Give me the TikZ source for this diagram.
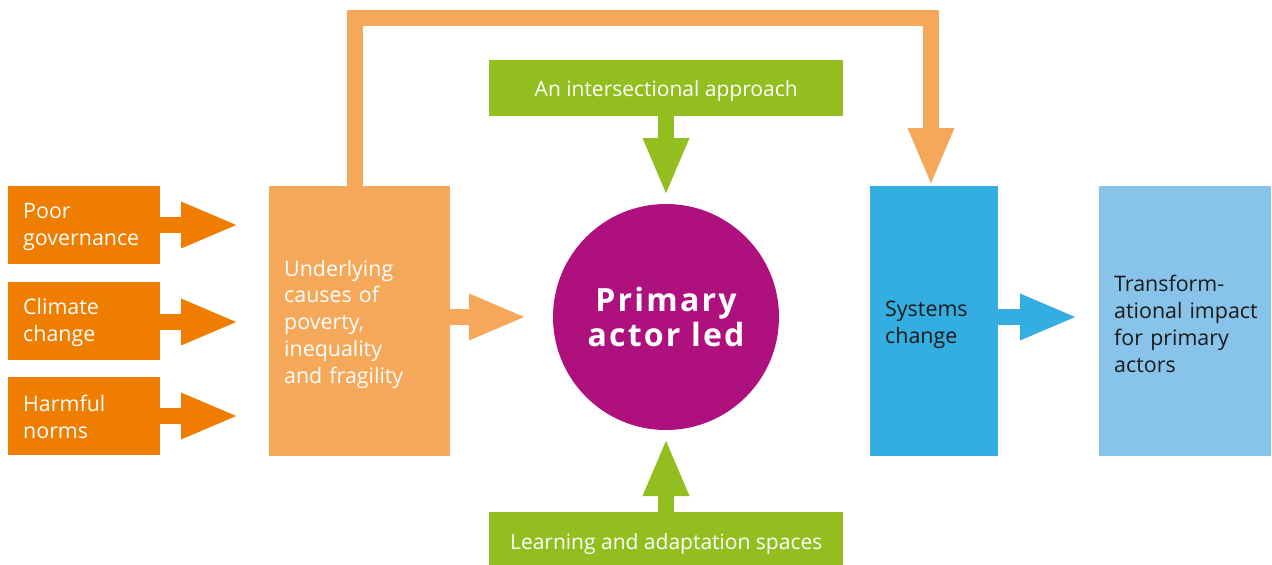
\documentclass[tikz,border=0pt]{standalone}
\usepackage{fontspec}
\setmainfont{Open Sans}
\usetikzlibrary{arrows.meta}
\definecolor{dorange}{RGB}{239,125,0}
\definecolor{lorange}{RGB}{245,168,89}
\definecolor{magenta}{RGB}{174,17,125}
\definecolor{lgreen}{RGB}{146,190,32}
\definecolor{sblue}{RGB}{52,174,224}
\definecolor{lblue}{RGB}{136,196,234}
\definecolor{dtext}{RGB}{25,25,25}
\tikzset{
  box/.style={rectangle, inner ysep=0pt, inner xsep=15pt, align=left, anchor=north west,
    font=\fontsize{21.4}{26.8}\selectfont, execute at begin node={\rule{0pt}{#1}}},
  box/.default=22pt,
  gbox/.style={rectangle, fill=lgreen, text=white, inner sep=0pt, anchor=north west,
    minimum width=354pt, font=\fontsize{21}{24}\selectfont, execute at begin node={\rule{0pt}{21pt}}},
  blockarrow/.style={line width=16pt, -{Triangle[width=42pt,length=58pt]}},
}
\begin{document}
\begin{tikzpicture}[x=1pt,y=-1pt]
\useasboundingbox (0,0) rectangle (1272,565);
% left boxes
\node[box=18pt, fill=dorange, text=white, minimum width=152pt, minimum height=78pt, text width=122pt] (poor) at (8,186) {Poor\\governance};
\node[box=18pt, fill=dorange, text=white, minimum width=152pt, minimum height=78pt, text width=122pt] (clim) at (8,282) {Climate\\change};
\node[box=18pt, fill=dorange, text=white, minimum width=152pt, minimum height=78pt, text width=122pt] (harm) at (8,377) {Harmful\\norms};
\node[box, fill=lorange, text=white, minimum width=181pt, minimum height=270pt, text width=151pt] (under) at (269,186) {Underlying\\causes of\\poverty,\\inequality\\and fragility};
\node[circle, fill=magenta, text=white, minimum size=226pt, inner sep=0pt, align=center,
  font=\fontsize{32}{35}\selectfont\bfseries\addfontfeatures{LetterSpace=7}] (prim) at (666,317) {Primary\\actor led};
\node[box, fill=sblue, text=dtext, minimum width=128pt, minimum height=270pt, text width=98pt] (sys) at (870,186) {Systems\\change};
\node[box, fill=lblue, text=dtext, minimum width=172pt, minimum height=270pt, text width=142pt] (trans) at (1099,186) {Transform-\\\mbox{ational impact}\\for primary\\actors};
\node[gbox, minimum height=56pt] (top) at (489,60) {An intersectional approach};
\node[gbox, minimum height=58pt] (bot) at (489,512) {Learning and adaptation spaces};
% tip coordinates
\coordinate (t1) at (239,225);
\coordinate (t2) at (239,322);
\coordinate (t3) at (239,416);
\coordinate (tu) at (527,317);
\coordinate (tt) at (666,196);
\coordinate (tb) at (666,438);
\coordinate (ts) at (1078,317);
\coordinate (tl) at (931,186);
\coordinate (la) at (354.5,186);
% arrows
\draw[blockarrow, dorange] (poor.east |- t1) -- (t1);
\draw[blockarrow, dorange] (clim.east |- t2) -- (t2);
\draw[blockarrow, dorange] (harm.east |- t3) -- (t3);
\draw[blockarrow, lorange] (under.east |- tu) -- (tu);
\draw[blockarrow, lgreen] (top.south -| tt) -- (tt);
\draw[blockarrow, lgreen] (bot.north -| tb) -- (tb);
\draw[blockarrow, sblue] (sys.east |- ts) -- (ts);
\draw[blockarrow, lorange] (la) -- (354.5,18) -- (931,18) -- (tl);
\end{tikzpicture}
\end{document}
